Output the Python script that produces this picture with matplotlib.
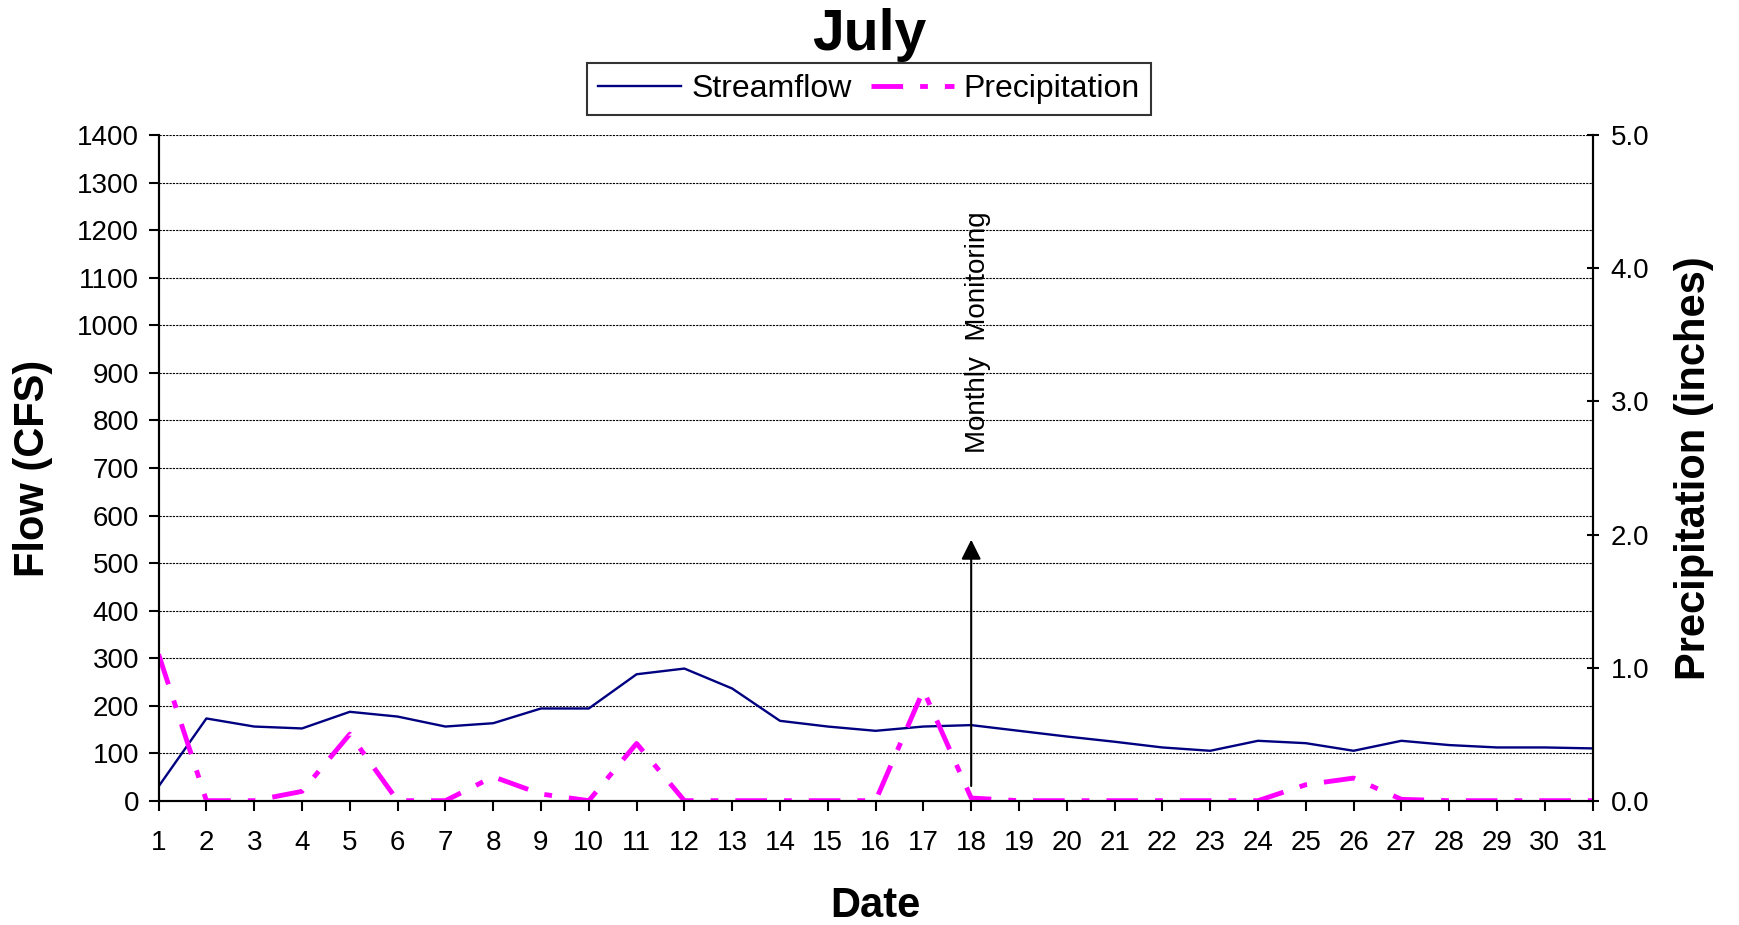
import matplotlib.pyplot as plt
import numpy as np

plt.rcParams['font.family'] = ['Liberation Sans', 'DejaVu Sans']

days = list(range(1, 32))
streamflow = [30, 173, 156, 152, 187, 177, 156, 163, 194, 194,
              266, 278, 236, 168, 156, 147, 156, 159, 147, 135,
              124, 112, 105, 126, 121, 105, 126, 117, 112, 112, 110]
precip = [1.10, 0.0, 0.0, 0.07, 0.50, 0.0, 0.0, 0.18, 0.05, 0.0,
          0.43, 0.0, 0.0, 0.0, 0.0, 0.0, 0.83, 0.02, 0.0, 0.0,
          0.0, 0.0, 0.0, 0.0, 0.12, 0.17, 0.01, 0.0, 0.0, 0.0, 0.0]
flow_ticks = list(range(0, 1401, 100))
precip_ticks = [0.0, 1.0, 2.0, 3.0, 4.0, 5.0]

fig = plt.figure(figsize=(17.39, 9.25), dpi=100)
ax = fig.add_axes([0.0912, 0.1344, 0.8246, 0.7193])
ax2 = ax.twinx()

l1, = ax.plot(days, streamflow, color='#000080', lw=1.7, label='Streamflow')
l2, = ax2.plot(days, precip, color='#FF00FF', lw=3.5,
               linestyle=(0, (6.5, 3.5, 1.6, 3.5)), label='Precipitation')

ax.set_xlim(1, 31)
ax.set_ylim(0, 1400)
ax.set_xticks(days)
ax.set_yticks(flow_ticks)
ax2.set_ylim(0, 5)
ax2.set_yticks(precip_ticks)
ax2.set_yticklabels(['%.1f' % t for t in precip_ticks])

ax.yaxis.grid(True, color='black', lw=0.8, linestyle=(0, (2, 1)))
ax.set_axisbelow(True)
for a in (ax, ax2):
    a.spines['top'].set_visible(False)
    for s in a.spines.values():
        s.set_linewidth(1.5)
ax.tick_params(axis='both', labelsize=20, width=1.5, length=7, direction='out')
ax.tick_params(axis='x', pad=14)
ax.tick_params(axis='y', pad=7)
ax2.tick_params(axis='y', labelsize=20, width=1.5, length=8, direction='inout', pad=9)

ax.set_xlabel('Date', fontsize=30, fontweight='bold', va='center')
ax.xaxis.set_label_coords(0.5, -0.158)
ax.set_ylabel('Flow (CFS)', fontsize=30, fontweight='bold', va='center')
ax.yaxis.set_label_coords(-0.0876, 0.5)
ax2.set_ylabel('Precipitation (inches)', fontsize=30, fontweight='bold', va='center')
ax2.yaxis.set_label_coords(1.071, 0.5)

# monitoring arrow
ax.annotate('', xy=(18, 555), xytext=(18, 25),
            arrowprops=dict(arrowstyle='-|>', color='black', lw=1.5,
                            mutation_scale=30))
ax.text(18.15, 985, 'Monthly  Monitoring', rotation=90, fontsize=20,
        ha='center', va='center')

fig.text(0.4997, 0.962, 'July', fontsize=41, fontweight='bold',
         ha='center', va='center')
leg = fig.legend(handles=[l1, l2], loc='center', bbox_to_anchor=(0.4997, 0.9035),
                 ncol=2, fontsize=23, frameon=True, fancybox=False,
                 edgecolor='black', handlelength=2.6, handletextpad=0.3,
                 columnspacing=0.6, borderpad=0.35)
leg.get_frame().set_linewidth(1.5)

fig.savefig('out.png', dpi=100)
